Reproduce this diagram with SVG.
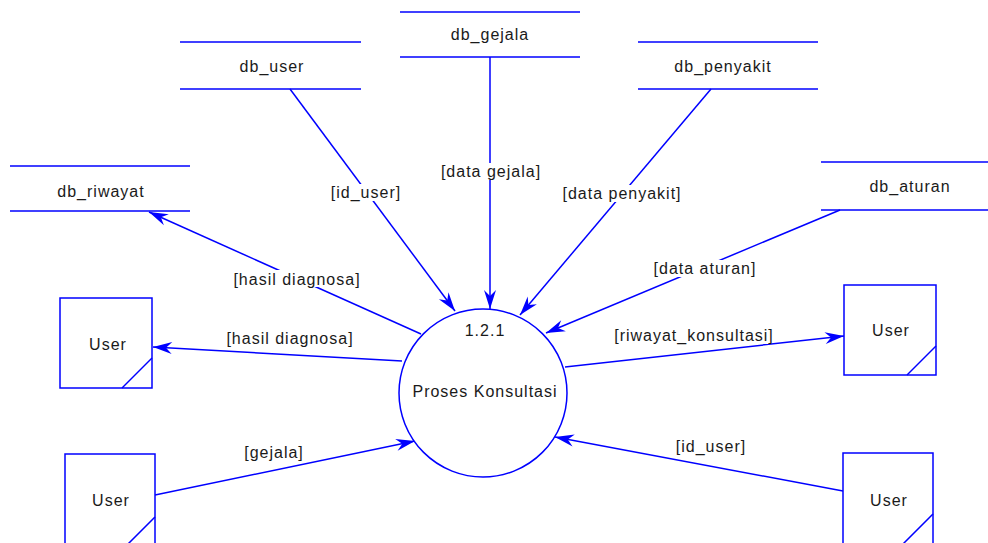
<svg xmlns="http://www.w3.org/2000/svg" width="988" height="543" viewBox="0 0 988 543">
  <style>
    .ln { stroke: #0000ff; stroke-width: 1.5; fill: none; }
    .box { stroke: #0000ff; stroke-width: 1.5; fill: #ffffff; }
    .flow { stroke: #0000ff; stroke-width: 1.5; fill: none; marker-end: url(#arrow); }
    text { font-family: "Liberation Sans", Arial, sans-serif; font-size: 16px; letter-spacing: 1px; fill: #1a1a1a; text-anchor: middle; }
    .bg { fill: #ffffff; }
  </style>
  <defs>
    <marker id="arrow" markerUnits="userSpaceOnUse" markerWidth="22" markerHeight="14" viewBox="-22 -7 22 14" refX="0" refY="0" orient="auto" overflow="visible">
      <path d="M0,0 L-19,-6 L-13,0 L-19,6 Z" fill="#0000ff"/>
    </marker>
  </defs>
  <rect width="988" height="543" fill="#ffffff"/>

  <!-- data flows -->
  <g id="connectors">
    <line class="flow" x1="290" y1="89" x2="455" y2="311"/>
    <line class="flow" x1="490" y1="57" x2="490" y2="309"/>
    <line class="flow" x1="711" y1="89" x2="520" y2="315"/>
    <line class="flow" x1="840" y1="210" x2="546" y2="333"/>
    <line class="flow" x1="421" y1="334" x2="149" y2="212"/>
    <line class="flow" x1="402" y1="361" x2="153" y2="347"/>
    <line class="flow" x1="565" y1="367" x2="844" y2="336"/>
    <line class="flow" x1="155" y1="495" x2="415" y2="441"/>
    <line class="flow" x1="843" y1="491" x2="555" y2="437"/>

    <g id="labels">
      <rect class="bg" x="330" y="184" width="71" height="17"/>
      <text x="366" y="198">[id_user]</text>
      <rect class="bg" x="441" y="163" width="99" height="17"/>
      <text x="491" y="177">[data gejala]</text>
      <rect class="bg" x="565" y="185" width="113" height="17"/>
      <text x="622" y="199">[data penyakit]</text>
      <rect class="bg" x="655" y="260" width="99" height="17"/>
      <text x="705" y="274">[data aturan]</text>
      <rect class="bg" x="233" y="270" width="127" height="17"/>
      <text x="297" y="285">[hasil diagnosa]</text>
      <rect class="bg" x="226" y="329" width="127" height="17"/>
      <text x="290" y="344">[hasil diagnosa]</text>
      <rect class="bg" x="616" y="327" width="155" height="17"/>
      <text x="694" y="341">[riwayat_konsultasi]</text>
      <rect class="bg" x="244" y="444" width="59" height="17"/>
      <text x="274" y="458">[gejala]</text>
      <rect class="bg" x="676" y="438" width="70" height="17"/>
      <text x="711" y="452">[id_user]</text>
    </g>
  </g>

  <!-- process -->
  <g id="proses-konsultasi">
    <circle class="box" cx="483" cy="393" r="84"/>
    <text x="485" y="336">1.2.1</text>
    <text x="485" y="397">Proses Konsultasi</text>
  </g>

  <!-- data stores -->
  <g id="db_user">
    <line class="ln" x1="180" y1="42" x2="361" y2="42"/>
    <line class="ln" x1="180" y1="89" x2="361" y2="89"/>
    <text x="272" y="72">db_user</text>
  </g>
  <g id="db_gejala">
    <line class="ln" x1="400" y1="12" x2="580" y2="12"/>
    <line class="ln" x1="400" y1="57" x2="580" y2="57"/>
    <text x="490" y="40">db_gejala</text>
  </g>
  <g id="db_penyakit">
    <line class="ln" x1="638" y1="42" x2="818" y2="42"/>
    <line class="ln" x1="638" y1="89" x2="818" y2="89"/>
    <text x="723" y="72">db_penyakit</text>
  </g>
  <g id="db_riwayat">
    <line class="ln" x1="10" y1="166" x2="190" y2="166"/>
    <line class="ln" x1="10" y1="211" x2="190" y2="211"/>
    <text x="101" y="197">db_riwayat</text>
  </g>
  <g id="db_aturan">
    <line class="ln" x1="821" y1="162" x2="988" y2="162"/>
    <line class="ln" x1="821" y1="210" x2="988" y2="210"/>
    <text x="910" y="192">db_aturan</text>
  </g>

  <!-- external entities -->
  <g id="user-kiri-atas">
    <rect class="box" x="60" y="298" width="92" height="90"/>
    <line class="ln" x1="152" y1="358" x2="122" y2="388"/>
    <text x="108" y="350">User</text>
  </g>
  <g id="user-kiri-bawah">
    <rect class="box" x="65" y="454" width="90" height="92"/>
    <line class="ln" x1="155" y1="517" x2="126" y2="546"/>
    <text x="111" y="506">User</text>
  </g>
  <g id="user-kanan-atas">
    <rect class="box" x="844" y="285" width="92" height="90"/>
    <line class="ln" x1="936" y1="346" x2="907" y2="375"/>
    <text x="891" y="336">User</text>
  </g>
  <g id="user-kanan-bawah">
    <rect class="box" x="843" y="453" width="90" height="93"/>
    <line class="ln" x1="933" y1="514" x2="901" y2="546"/>
    <text x="889" y="506">User</text>
  </g>
</svg>
